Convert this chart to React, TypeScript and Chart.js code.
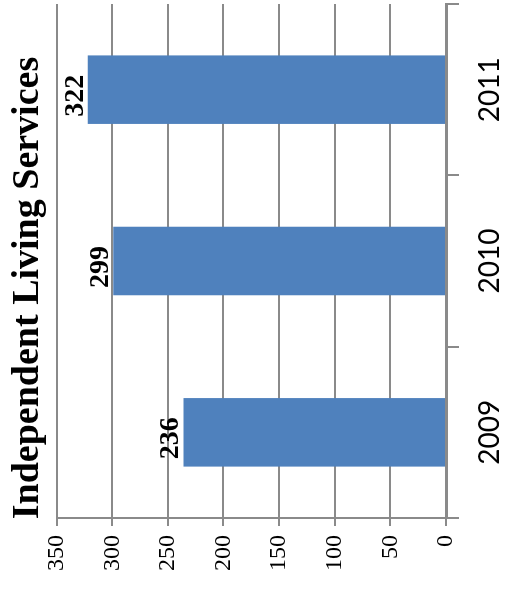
import React, { useEffect, useRef } from "react";
import { Chart, registerables } from "chart.js";
Chart.register(...registerables);

const categories = ["2009", "2010", "2011"];
const values = [236, 299, 322];
const valueTicks = [0, 50, 100, 150, 200, 250, 300, 350];
const titleText = "Independent Living Services";

const W = 590;
const H = 505;
const GRID = "#8a8a8a";
const SERIF = "Liberation Serif";

export default function App() {
  const ref = useRef<HTMLCanvasElement>(null);
  useEffect(() => {
    Chart.defaults.font.family = `"${SERIF}"`;
    Chart.defaults.color = "#000";
    const labelPlugin = {
      id: "valueLabels",
      afterDatasetsDraw(chart: any) {
        const ctx = chart.ctx;
        const meta = chart.getDatasetMeta(0);
        ctx.save();
        ctx.font = `bold 28px "${SERIF}"`;
        ctx.fillStyle = "#000";
        ctx.textAlign = "center";
        ctx.textBaseline = "alphabetic";
        meta.data.forEach((el: any, i: number) => {
          ctx.fillText(String(values[i]), el.x - 6, el.y - 5);
        });
        ctx.restore();
      },
    };
    const chart = new Chart(ref.current as HTMLCanvasElement, {
      type: "bar",
      data: {
        labels: categories,
        datasets: [
          {
            data: values,
            backgroundColor: "#4F81BD",
            categoryPercentage: 1,
            barPercentage: 0.4,
          },
        ],
      },
      options: {
        animation: false,
        responsive: false,
        maintainAspectRatio: false,
        layout: { padding: { left: 18, right: 4, top: 0, bottom: 0 } },
        plugins: {
          legend: { display: false },
          tooltip: { enabled: false },
          title: {
            display: true,
            text: titleText,
            font: { family: `"${SERIF}"`, size: 38, weight: "bold" },
            color: "#000",
            padding: { top: 5, bottom: 6 },
          },
        },
        scales: {
          x: {
            z: 1,
            afterFit: (s: any) => {
              s.height = 59;
            },
            grid: {
              display: true,
              drawOnChartArea: false,
              drawTicks: true,
              tickLength: 13,
              color: GRID,
              lineWidth: 2,
              offset: true,
            },
            border: { display: true, color: GRID, width: 3 },
            ticks: {
              font: { family: "Lato", size: 28 },
              color: "#000",
              padding: 14,
            },
          },
          y: {
            min: 0,
            max: 350,
            afterFit: (s: any) => {
              s.width = 54;
            },
            afterBuildTicks: (s: any) => {
              s.ticks = valueTicks.map((v) => ({ value: v }));
            },
            grid: { color: GRID, lineWidth: 2, tickLength: 8 },
            border: { display: true, color: GRID, width: 2 },
            ticks: {
              font: { family: `"${SERIF}"`, size: 24 },
              color: "#000",
              padding: 9,
            },
          },
        },
      },
      plugins: [labelPlugin],
    } as any);
    return () => chart.destroy();
  }, []);
  return (
    <div
      style={{
        position: "fixed",
        left: 0,
        top: 0,
        width: W,
        height: H,
        transformOrigin: "0 0",
        transform: `translateY(${W}px) rotate(-90deg)`,
      }}
    >
      <canvas ref={ref} width={W} height={H} style={{ display: "block", width: W, height: H }} />
    </div>
  );
}
